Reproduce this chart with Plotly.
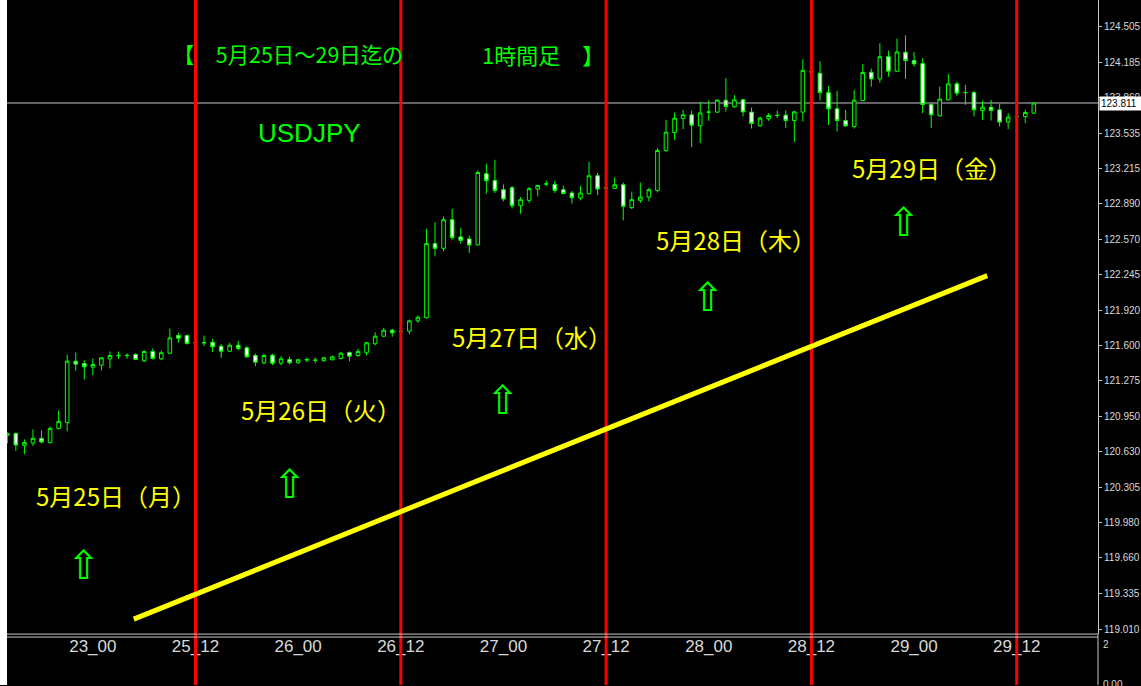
import plotly.graph_objects as go

# ---------------- data ----------------
bar_index = list(range(121))
open_ = [120.778, 120.796, 120.687, 120.708, 120.751, 120.712, 120.842, 120.894, 121.455, 121.434,
         121.401, 121.419, 121.477, 121.506, 121.506, 121.516, 121.459, 121.544, 121.477, 121.528,
         121.689, 121.689, 121.623, 121.622, 121.628, 121.592, 121.546, 121.601, 121.577, 121.507,
         121.441, 121.510, 121.437, 121.471, 121.441, 121.467, 121.463, 121.459, 121.468, 121.480,
         121.534, 121.507, 121.532, 121.614, 121.683, 121.738, 121.725, 121.729, 121.823, 121.851,
         122.528, 122.485, 122.746, 122.589, 122.571, 122.516, 123.166, 123.104, 123.020, 123.038,
         122.874, 122.923, 123.026, 123.071, 123.068, 123.020, 122.990, 122.944, 122.983, 123.147,
         123.034, 123.032, 123.065, 122.856, 122.923, 122.953, 123.013, 123.378, 123.542, 123.670,
         123.703, 123.603, 123.727, 123.728, 123.837, 123.776, 123.840, 123.728, 123.603, 123.667,
         123.696, 123.700, 123.651, 123.728, 124.096, 124.083, 123.906, 123.758, 123.651, 123.597,
         123.834, 124.092, 124.031, 124.234, 124.101, 124.274, 124.198, 124.171, 123.797, 123.694,
         123.840, 123.986, 123.905, 123.906, 123.742, 123.773, 123.749, 123.637, 123.687, 123.688,
         123.719]
high = [120.805, 120.805, 120.742, 120.833, 120.824, 120.860, 121.006, 121.516, 121.534, 121.464,
        121.480, 121.489, 121.544, 121.544, 121.528, 121.528, 121.553, 121.571, 121.553, 121.753,
        121.714, 121.698, 121.644, 121.689, 121.659, 121.614, 121.623, 121.641, 121.592, 121.525,
        121.525, 121.523, 121.501, 121.495, 121.477, 121.489, 121.489, 121.495, 121.507, 121.541,
        121.544, 121.568, 121.632, 121.719, 121.760, 121.750, 121.744, 121.835, 121.874, 122.662,
        122.722, 122.776, 122.844, 122.671, 122.601, 123.196, 123.257, 123.293, 123.068, 123.056,
        122.953, 123.044, 123.065, 123.104, 123.099, 123.059, 123.008, 123.056, 123.275, 123.172,
        123.056, 123.132, 123.086, 123.002, 123.086, 123.038, 123.400, 123.658, 123.724, 123.749,
        123.743, 123.824, 123.840, 123.846, 124.038, 123.883, 123.849, 123.770, 123.688, 123.719,
        123.743, 123.743, 123.740, 124.211, 124.122, 124.192, 123.967, 123.922, 123.749, 123.931,
        124.165, 124.125, 124.356, 124.289, 124.398, 124.429, 124.277, 124.220, 123.810, 123.961,
        124.077, 124.007, 123.977, 123.922, 123.831, 123.840, 123.803, 123.719, 123.712, 123.749,
        123.815]
low = [120.705, 120.635, 120.605, 120.681, 120.705, 120.705, 120.833, 120.815, 121.370, 121.288,
       121.328, 121.370, 121.389, 121.477, 121.477, 121.464, 121.446, 121.471, 121.464, 121.519,
       121.623, 121.607, 121.598, 121.592, 121.537, 121.486, 121.540, 121.555, 121.486, 121.410,
       121.425, 121.419, 121.419, 121.425, 121.432, 121.446, 121.437, 121.450, 121.462, 121.471,
       121.455, 121.495, 121.507, 121.601, 121.678, 121.678, 121.708, 121.701, 121.805, 121.845,
       122.412, 122.458, 122.564, 122.528, 122.443, 122.510, 122.983, 122.990, 122.913, 122.849,
       122.801, 122.899, 122.959, 123.050, 122.990, 122.977, 122.892, 122.923, 122.980, 122.971,
       123.020, 123.026, 122.740, 122.844, 122.899, 122.913, 122.995, 123.363, 123.475, 123.573,
       123.409, 123.445, 123.648, 123.719, 123.733, 123.767, 123.688, 123.578, 123.594, 123.648,
       123.673, 123.582, 123.454, 123.642, 124.068, 123.833, 123.612, 123.551, 123.591, 123.578,
       123.828, 123.961, 123.997, 124.052, 124.095, 124.031, 124.143, 123.719, 123.582, 123.688,
       123.833, 123.876, 123.794, 123.688, 123.658, 123.651, 123.597, 123.573, 123.667, 123.628,
       123.712]
close = [120.796, 120.690, 120.712, 120.751, 120.717, 120.842, 120.906, 121.455, 121.428, 121.404,
         121.425, 121.486, 121.507, 121.508, 121.508, 121.471, 121.544, 121.480, 121.532, 121.668,
         121.665, 121.617, 121.625, 121.624, 121.586, 121.546, 121.601, 121.571, 121.495, 121.446,
         121.507, 121.437, 121.477, 121.441, 121.468, 121.469, 121.465, 121.486, 121.495, 121.528,
         121.501, 121.544, 121.623, 121.683, 121.738, 121.714, 121.727, 121.823, 121.856, 122.528,
         122.485, 122.746, 122.582, 122.558, 122.516, 123.177, 123.102, 123.013, 122.935, 122.874,
         122.929, 123.029, 123.059, 123.073, 123.013, 122.986, 122.947, 122.990, 123.147, 123.026,
         123.036, 123.065, 122.868, 122.929, 122.953, 123.020, 123.378, 123.545, 123.673, 123.703,
         123.609, 123.721, 123.729, 123.837, 123.779, 123.840, 123.730, 123.624, 123.673, 123.697,
         123.698, 123.651, 123.730, 124.109, 124.094, 123.906, 123.758, 123.651, 123.603, 123.837,
         124.089, 124.031, 124.234, 124.101, 124.277, 124.198, 124.168, 123.797, 123.703, 123.846,
         123.986, 123.901, 123.907, 123.749, 123.773, 123.742, 123.637, 123.682, 123.689, 123.724,
         123.811]

time_tick_index = [10, 22, 34, 46, 58, 70, 82, 94, 106, 118]
time_tick_text = ["23_00", "25_12", "26_00", "26_12", "27_00", "27_12", "28_00", "28_12", "29_00", "29_12"]
partial_tick_index = -2
partial_tick_text = "22_12"
day_separator_index = [22, 46, 70, 94, 118]
price_ticks = [124.505, 124.185, 123.860, 123.535, 123.215, 122.890, 122.570, 122.245, 121.920,
               121.600, 121.275, 120.950, 120.630, 120.305, 119.980, 119.660, 119.335, 119.010]
bid_price = 123.811
trend_x = [14.78, 114.55]
trend_y = [119.101, 122.236]
title_parts = ["【　5月25日～29日迄の", "1時間足　】"]
symbol_text = "USDJPY"
day_labels = ["5月25日（月）", "5月26日（火）", "5月27日（水）", "5月28日（木）", "5月29日（金）"]
sub_axis_labels = ["2", "0.00"]

# ---------------- layout constants ----------------
W, H = 1141, 686
ML, MR = 7, 41
main_bottom_px = 635
sub_top_px = 638
y_dom0 = 1 - main_bottom_px / H
x_range = [-0.035, 127.5]
y_range = [118.965, 124.751]

GREEN = "#00FF00"
YELLOW = "#FFFF00"
AXIS_TXT = "#D8D8D8"
CJK = "Noto Sans CJK JP, sans-serif"
LAT = "Arial, Liberation Sans, sans-serif"

fig = go.Figure()
fig.add_trace(go.Candlestick(
    x=bar_index, open=open_, high=high, low=low, close=close,
    increasing=dict(line=dict(color=GREEN, width=1), fillcolor="#000000"),
    decreasing=dict(line=dict(color=GREEN, width=1), fillcolor="#FFFFFF"),
    whiskerwidth=0, showlegend=False, hoverinfo="skip",
))

shapes = []
shapes.append(dict(type="line", xref="paper", x0=0, x1=1, yref="y", y0=bid_price, y1=bid_price,
                   line=dict(color="#808088", width=1.5), layer="below"))
for xi in day_separator_index:
    shapes.append(dict(type="line", xref="x", x0=xi, x1=xi, yref="paper", y0=0, y1=1,
                       line=dict(color="#FF0000", width=3), layer="above"))
shapes.append(dict(type="line", xref="x", x0=trend_x[0], x1=trend_x[1], yref="y",
                   y0=trend_y[0], y1=trend_y[1], line=dict(color=YELLOW, width=5), layer="above"))
for py in (main_bottom_px, sub_top_px):
    yy = 1 - py / H
    shapes.append(dict(type="line", xref="paper", x0=0, x1=1, yref="paper", y0=yy, y1=yy,
                       line=dict(color="#C8C8C8", width=1), layer="above"))
shapes.append(dict(type="line", xref="paper", x0=1, x1=1, yref="paper", y0=0, y1=y_dom0,
                   line=dict(color="#C8C8C8", width=1), layer="above"))
shapes.append(dict(type="rect", xref="paper", x0=-ML / (W - ML - MR), x1=0, yref="paper", y0=0, y1=1,
                   fillcolor="#FFFFFF", line=dict(width=0), layer="above"))

annotations = []
for txt, tx, fs in zip(title_parts, (32.85, 62.6), (21.4, 22)):
    annotations.append(dict(x=tx, y=124.223, xref="x", yref="y", text=txt, showarrow=False, yshift=4,
                            font=dict(family=CJK, size=fs, color=GREEN)))
annotations.append(dict(x=35.32, y=123.535, xref="x", yref="y", text=symbol_text, showarrow=False,
                        font=dict(family=LAT, size=26, color=GREEN)))
label_pos = [(12.04, 120.218), (35.96, 121.006), (60.64, 121.671), (84.45, 122.555), (107.37, 123.211)]
for txt, (lx, ly) in zip(day_labels, label_pos):
    annotations.append(dict(x=lx, y=ly, xref="x", yref="y", text=txt, showarrow=False,
                            xshift=6, yshift=1,
                            font=dict(family=CJK, size=24, color=YELLOW)))
arrow_pos = [(9.01, 119.598), (33.05, 120.336), (57.96, 121.097), (81.88, 122.045), (104.87, 122.728)]
for ax_, ay_ in arrow_pos:
    annotations.append(dict(x=ax_, y=ay_, xref="x", yref="y", text="⇧", showarrow=False,
                            font=dict(family="DejaVu Sans", size=40, color=GREEN)))
annotations.append(dict(x=1, y=bid_price, xref="paper", yref="y", xanchor="left", yanchor="middle",
                        text=f"{bid_price:.3f}", showarrow=False, bgcolor="#FFFFFF", borderpad=1,
                        width=40, align="left", xshift=1,
                        font=dict(family=LAT, size=10, color="#000000")))
annotations.append(dict(x=partial_tick_index, y=y_dom0, xref="x", yref="paper", yanchor="top",
                        text=partial_tick_text, showarrow=False, yshift=-2,
                        font=dict(family=LAT, size=17, color=AXIS_TXT)))
annotations.append(dict(x=1, y=1 - sub_top_px / H, xref="paper", yref="paper", xanchor="left",
                        yanchor="top", text=sub_axis_labels[0], showarrow=False, xshift=3,
                        font=dict(family=LAT, size=10, color=AXIS_TXT)))
annotations.append(dict(x=1, y=1 - 678 / H, xref="paper", yref="paper", xanchor="left",
                        yanchor="top", text=sub_axis_labels[1], showarrow=False, xshift=3,
                        font=dict(family=LAT, size=10, color=AXIS_TXT)))

fig.update_layout(
    width=W, height=H,
    margin=dict(l=ML, r=MR, t=0, b=0, pad=0),
    paper_bgcolor="#000000", plot_bgcolor="#000000",
    showlegend=False,
    boxgap=0.4,
    shapes=shapes, annotations=annotations,
    xaxis=dict(range=x_range, rangeslider=dict(visible=False), showgrid=False, zeroline=False,
               showline=False, tickmode="array", tickvals=time_tick_index, ticktext=time_tick_text,
               ticks="", tickfont=dict(family=LAT, size=17, color=AXIS_TXT), fixedrange=True),
    yaxis=dict(domain=[y_dom0, 1], range=y_range, side="right", showgrid=False, zeroline=False,
               tickmode="array", tickvals=price_ticks, ticktext=[f"{v:.3f}" for v in price_ticks],
               ticks="outside", ticklen=3, tickcolor="#C8C8C8", showline=True, linecolor="#C8C8C8",
               linewidth=1, tickfont=dict(family=LAT, size=10, color=AXIS_TXT), fixedrange=True),
)

fig.write_html("out.html", config={"displayModeBar": False},
               post_script="document.body.style.margin='0px';document.body.style.overflow='hidden';")
